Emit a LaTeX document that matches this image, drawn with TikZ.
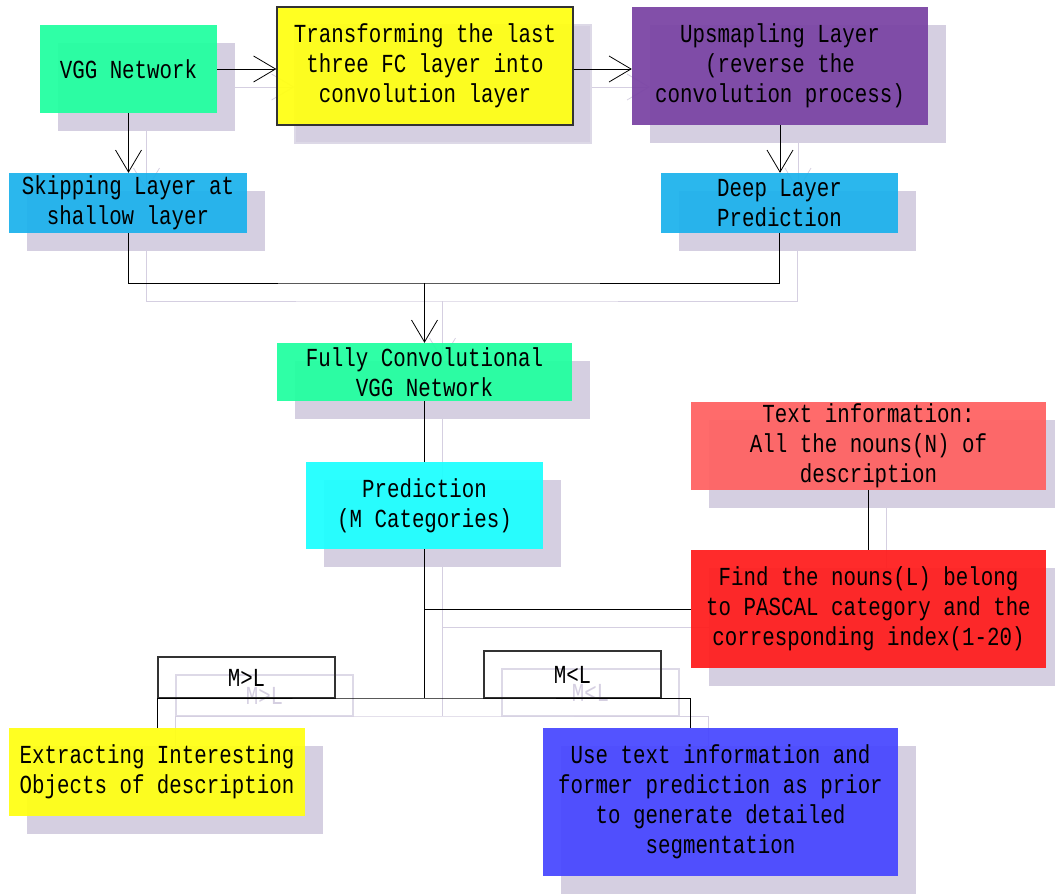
\documentclass[tikz,border=0pt]{standalone}
\usepackage{fontspec}
\setmainfont{Liberation Mono}[FakeStretch=0.8]
\usepackage{tikz}
\usetikzlibrary{arrows.meta}
\definecolor{ink}{RGB}{0,0,0}
\definecolor{shade}{RGB}{213,207,225}
\definecolor{boxgreen}{RGB}{34,255,160}
\definecolor{boxyellow}{RGB}{255,255,20}
\definecolor{boxpurple}{RGB}{122,68,164}
\definecolor{boxblue}{RGB}{30,178,236}
\definecolor{boxcyan}{RGB}{30,255,255}
\definecolor{boxpink}{RGB}{255,98,98}
\definecolor{boxred}{RGB}{255,30,30}
\definecolor{boxindigo}{RGB}{72,72,255}
\def\boxop{0.94}
\newcommand{\lbl}[1]{#1}
\tikzset{
  flow_box/.style = {rectangle, align=center, inner sep=0pt, text centered,
    font=\fontsize{26}{30}\selectfont, fill opacity=\boxop, text opacity=1,
    text=ink},% boite de base
  plain_box/.style = {flow_box, fill=#1},% boite pleine, sans bord
  edge_box/.style = {flow_box, fill=#1, draw=ink!80, line width=1.3pt},% boite pleine, avec bord
  cond_box/.style = {flow_box, draw=ink!80, line width=1.1pt},% condition M>L, M<L
  link/.style = {draw=ink, line width=0.8pt},
  arrow_link/.style = {link, -{Straight Barb[length=22pt,width=26pt]}}
}
\newcommand{\fcnchart}{%
  \node [plain_box=boxgreen, minimum width=177pt, minimum height=88pt] (vgg) at (128.5,69) {\lbl{VGG Network}};
  \node [edge_box=boxyellow, minimum width=296pt, minimum height=118pt] (fc_to_conv) at (425,66)
    {\lbl{Transforming the last\\three FC layer into\\convolution layer}};
  \node [plain_box=boxpurple, minimum width=296pt, minimum height=118pt] (upsample) at (780,66)
    {\lbl{Upsmapling Layer\\(reverse the\\convolution process)}};
  \node [plain_box=boxblue, minimum width=238pt, minimum height=60pt] (skip) at (128,203)
    {\lbl{Skipping Layer at\\shallow layer}};
  \node [plain_box=boxblue, minimum width=237pt, minimum height=60pt] (deep) at (779.5,203)
    {\lbl{Deep Layer\\Prediction}};
  \node [plain_box=boxgreen, minimum width=295pt, minimum height=58pt] (fcn) at (424.5,372)
    {\lbl{Fully Convolutional\\VGG Network}};
  \node [plain_box=boxcyan, minimum width=237pt, minimum height=87pt] (pred) at (424.5,505.5)
    {\lbl{Prediction\\(M Categories)}};
  \node [plain_box=boxpink, minimum width=355pt, minimum height=88pt] (text_info) at (868.5,446)
    {\lbl{Text information:\\All the nouns(N) of\\description}};
  \node [plain_box=boxred, minimum width=355pt, minimum height=118pt] (find_nouns) at (868.5,609)
    {\lbl{Find the nouns(L) belong\\to PASCAL category and the\\corresponding index(1-20)}};
  \node [cond_box, minimum width=177pt, minimum height=41pt] (m_more) at (246.5,677.5) {M>L};
  \node [cond_box, minimum width=177pt, minimum height=47pt] (m_less) at (572.5,674.5) {M<L};
  \node [plain_box=boxyellow, minimum width=296pt, minimum height=88pt] (extract) at (157,772)
    {\lbl{Extracting Interesting\\Objects of description}};
  \node [plain_box=boxindigo, minimum width=355pt, minimum height=148pt] (refine) at (720.5,802)
    {\lbl{Use text information and\\former prediction as prior\\to generate detailed\\segmentation}};
  % liens
  \draw [arrow_link] (vgg.east) -- (vgg.east -| fc_to_conv.west);
  \draw [arrow_link] (fc_to_conv.east |- vgg.east) -- (vgg.east -| upsample.west);
  \draw [arrow_link] (vgg.south) -- (vgg.south |- skip.north);
  \draw [arrow_link] (upsample.south) -- (upsample.south |- deep.north);
  \coordinate (merge) at (424.5,283);
  \draw [link] (skip.south) |- (merge) -| (deep.south);
  \draw [arrow_link] (merge) -- (fcn.north);
  \draw [link] (fcn.south) -- (pred.north);
  \coordinate (split) at (424.5,698);
  \draw [link] (pred.south) -- (split);
  \draw [link] (find_nouns.west) -- (find_nouns.west -| pred.south);
  \draw [link] (extract.north) |- (split) -| (refine.north -| find_nouns.west);
  \draw [link] (text_info.south) -- (find_nouns.north);
}

\begin{document}
\begin{tikzpicture}[x=1pt, y=-1pt]
  \useasboundingbox (0,0) rectangle (1055,894);
  % ombre
  \begin{scope}[shift={(18,18)}]
    \colorlet{ink}{shade}
    \colorlet{boxgreen}{shade}
    \colorlet{boxyellow}{shade}
    \colorlet{boxpurple}{shade}
    \colorlet{boxblue}{shade}
    \colorlet{boxcyan}{shade}
    \colorlet{boxpink}{shade}
    \colorlet{boxred}{shade}
    \colorlet{boxindigo}{shade}
    \def\boxop{1}
    \renewcommand{\lbl}[1]{}
    \fcnchart
  \end{scope}
  \fcnchart
\end{tikzpicture}
\end{document}
